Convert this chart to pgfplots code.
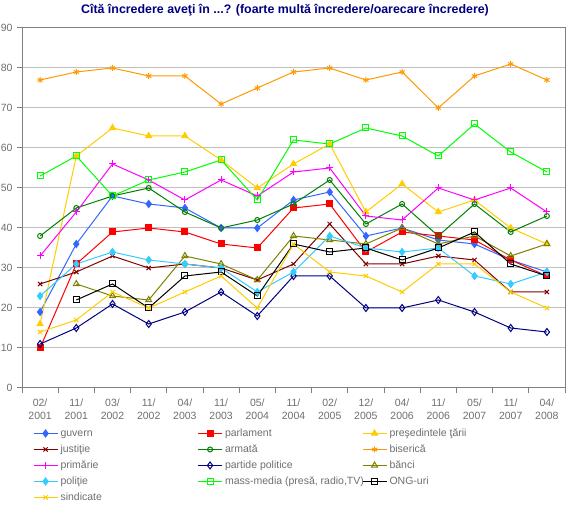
\documentclass[border=0pt]{standalone}
\usepackage{fontspec}
\setmainfont{Liberation Sans}
\usepackage{pgfplots}
\pgfplotsset{compat=1.18}
\usepackage{pgfplotstable}
\definecolor{cgrid}{RGB}{192,192,192}
\definecolor{caxis}{RGB}{128,128,128}
\definecolor{ctext}{RGB}{110,110,110}
\definecolor{ctitle}{RGB}{0,0,128}
\definecolor{cguv}{RGB}{51,102,255}
\definecolor{cpar}{RGB}{255,0,0}
\definecolor{cpre}{RGB}{255,204,0}
\definecolor{cjus}{RGB}{128,0,0}
\definecolor{carm}{RGB}{0,128,0}
\definecolor{cbis}{RGB}{255,153,0}
\definecolor{cpri}{RGB}{255,0,255}
\definecolor{cpp}{RGB}{0,0,128}
\definecolor{cban}{RGB}{128,128,0}
\definecolor{cpol}{RGB}{51,204,255}
\definecolor{cmm}{RGB}{0,255,0}
\definecolor{congs}{RGB}{0,0,0}
\definecolor{csin}{RGB}{255,204,0}
\pgfplotstableread{
x guv par pre jus arm bis pri pp ban pol mm ong sin
0 19 10 16 26 38 77 33 11 nan 23 53 nan 14
1 36 31 58 29 45 79 44 15 26 31 58 22 17
2 48 39 65 33 48 80 56 21 23 34 48 26 24
3 46 40 63 30 50 78 52 16 22 32 52 20 20
4 45 39 63 31 44 78 47 19 33 31 54 28 24
5 40 36 57 30 40 71 52 24 31 30 57 29 28
6 40 35 50 27 42 75 48 18 27 24 47 23 20
7 47 45 56 31 46 79 54 28 38 29 62 36 36
8 49 46 61 41 52 80 55 28 37 38 61 34 29
9 38 34 44 31 41 77 43 20 36 35 65 35 28
10 40 39 51 31 46 79 42 20 40 34 63 32 24
11 37 38 44 33 38 70 50 22 36 35 58 35 31
12 36 37 47 32 46 78 47 19 38 28 66 39 31
13 32 32 40 24 39 81 50 15 33 26 59 31 24
14 29 28 36 24 43 77 44 14 36 29 54 28 20
}\datatable
\newcommand\legbox[1]{\makebox[135pt][l]{#1}}
\begin{document}
\begin{tikzpicture}[x=1pt,y=1pt]
\useasboundingbox (0,0) rectangle (570,510);
\node[font=\bfseries\fontsize{12.4}{14}\selectfont, text=ctitle] at (285,499.5) {Cîtă încredere aveţi în ...? (foarte multă încredere/oarecare încredere)};
\begin{axis}[
  at={(22pt,122pt)}, anchor=south west,
  scale only axis, width=543pt, height=360pt,
  xmin=-0.5, xmax=14.5, ymin=0, ymax=90,
  ytick={0,10,...,90},
  xtick={0,...,14},
  xticklabels={{02/\\2001},{11/\\2001},{03/\\2002},{11/\\2002},{04/\\2003},{11/\\2003},{05/\\2004},{11/\\2004},{02/\\2005},{12/\\2005},{04/\\2006},{11/\\2006},{05/\\2007},{11/\\2007},{04/\\2008}},
  minor xtick={-0.5,0.5,...,14.5},
  tick pos=left,
  tick align=outside,
  major x tick style={draw=none},
  major tick length=5pt, minor tick length=5pt,
  tick style={caxis, line width=1pt},
  ymajorgrids, grid style={cgrid, line width=1pt},
  axis line style={caxis, line width=1pt},
  /pgf/number format/assume math mode=true,
  ticklabel style={font=\fontsize{10.5}{13}\selectfont, text=ctext},
  xticklabel style={align=center, yshift=-2pt},
  yticklabel style={xshift=-1pt},
  every axis plot/.append style={line width=1pt},
  legend columns=3,
  legend cell align=left,
  legend image code/.code={\draw[mark repeat=2,mark phase=2,#1] plot coordinates {(0pt,0pt) (12pt,0pt) (24pt,0pt)};},
  legend style={at={(axis description cs:0.02,-0.107)}, anchor=north west, draw=none, fill=none,
    font=\fontsize{10.5}{12}\selectfont, text=ctext, inner sep=0pt,
    column sep=0pt, row sep=2.5pt,
    /tikz/every odd column/.append style={column sep=0.5pt},
    cells={anchor=west, text height=8pt, text depth=2.5pt, inner sep=1.5pt}},
]
\addplot[cguv, mark=diamond*, mark size=3.5, mark options={fill=cguv}] table[x=x,y=guv]{\datatable};
\addlegendentry{\legbox{guvern}}
\addplot[cpar, mark=square*, mark size=3, mark options={fill=cpar}] table[x=x,y=par]{\datatable};
\addlegendentry{\legbox{parlament}}
\addplot[cpre, mark=triangle*, mark size=3.5, mark options={fill=cpre}] table[x=x,y=pre]{\datatable};
\addlegendentry{\legbox{preşedintele ţării}}
\addplot[cjus, mark=x, mark size=3] table[x=x,y=jus]{\datatable};
\addlegendentry{\legbox{justiţie}}
\addplot[carm, mark=o, mark size=2.5, mark options={fill=white}] table[x=x,y=arm]{\datatable};
\addlegendentry{\legbox{armată}}
\addplot[cbis, mark=asterisk, mark size=3] table[x=x,y=bis]{\datatable};
\addlegendentry{\legbox{biserică}}
\addplot[cpri, mark=+, mark size=3.5] table[x=x,y=pri]{\datatable};
\addlegendentry{\legbox{primărie}}
\addplot[cpp, mark=diamond, mark size=3.5, mark options={fill=white}] table[x=x,y=pp]{\datatable};
\addlegendentry{\legbox{partide politice}}
\addplot[cban, mark=triangle, mark size=3.5, mark options={fill=white}, unbounded coords=jump] table[x=x,y=ban]{\datatable};
\addlegendentry{\legbox{bănci}}
\addplot[cpol, mark=diamond*, mark size=3.5, mark options={fill=cpol}] table[x=x,y=pol]{\datatable};
\addlegendentry{\legbox{poliţie}}
\addplot[cmm, mark=square, mark size=3, mark options={fill=white}] table[x=x,y=mm]{\datatable};
\addlegendentry{\legbox{mass-media (presă, radio,TV)}}
\addplot[congs, mark=square, mark size=3, mark options={fill=white}, unbounded coords=jump] table[x=x,y=ong]{\datatable};
\addlegendentry{\legbox{ONG-uri}}
\addplot[csin, mark=x, mark size=3] table[x=x,y=sin]{\datatable};
\addlegendentry{\legbox{sindicate}}
\end{axis}
\end{tikzpicture}
\end{document}
